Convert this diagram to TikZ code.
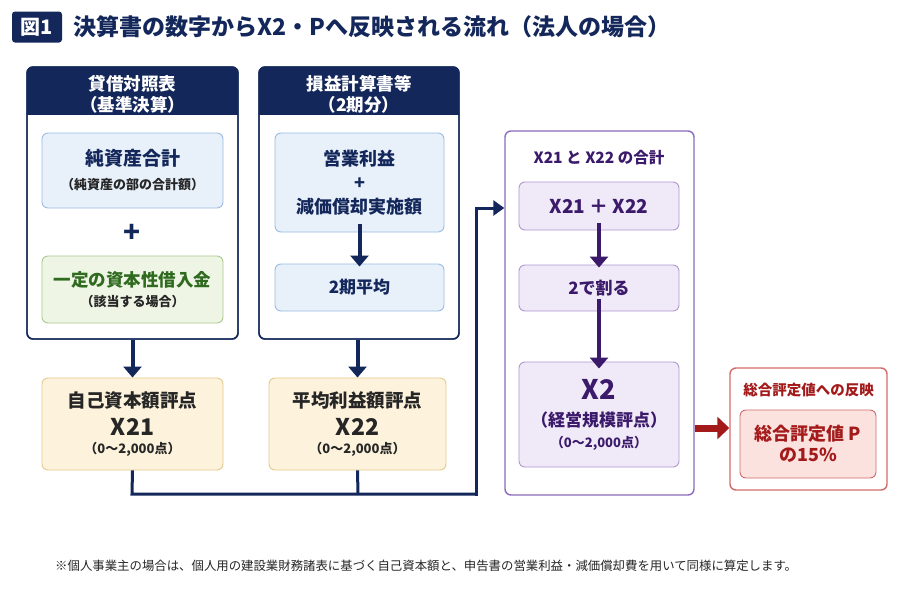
\documentclass[tikz,border=0pt]{standalone}
\usepackage{fontspec}
\setmainfont{Noto Sans CJK JP}
\usetikzlibrary{arrows.meta}
\definecolor{navy}{HTML}{13275A}
\definecolor{bluefill}{HTML}{E8F0FA}
\definecolor{blueline}{HTML}{9DBBE2}
\definecolor{greenfill}{HTML}{EEF5E5}
\definecolor{greenline}{HTML}{A9C98F}
\definecolor{greentext}{HTML}{2F6A1F}
\definecolor{yellowfill}{HTML}{FDF3DC}
\definecolor{yellowline}{HTML}{E6C98C}
\definecolor{purpline}{HTML}{8C6CBC}
\definecolor{purpfill}{HTML}{F0E9F7}
\definecolor{purptext}{HTML}{3B1A6B}
\definecolor{redc}{HTML}{A31A1A}
\definecolor{redline}{HTML}{D46A6A}
\definecolor{redfill}{HTML}{FBE2DF}
\definecolor{textdark}{HTML}{262626}
\newcommand{\fs}[1]{\fontsize{#1pt}{1.3\dimexpr#1pt\relax}\selectfont}
\newcommand{\basefs}{\fontsize{10pt}{30pt}\selectfont}
\begin{document}
\begin{tikzpicture}[x=1pt,y=-1pt,
  panel/.style={draw=navy, line width=1.4pt, rounded corners=6, fill=white, inner sep=0},
  hdr/.style={text=white, font=\basefs, align=center, inner sep=0},
  boxbase/.style={line width=0.9pt, rounded corners=6, align=center, inner sep=0, font=\basefs},
  bluebox/.style={boxbase, draw=blueline, fill=bluefill, text=navy},
  greenbox/.style={boxbase, draw=greenline, fill=greenfill, text=greentext},
  yelbox/.style={boxbase, draw=yellowline, fill=yellowfill, text=textdark},
  ppanel/.style={draw=purpline, line width=1.4pt, rounded corners=6, fill=white},
  pbox/.style={boxbase, draw=purpline!70, fill=purpfill, text=purptext},
  rpanel/.style={draw=redline, line width=1.4pt, rounded corners=6, fill=white},
  rbox/.style={boxbase, draw=redline, fill=redfill, text=redc},
  navyarrow/.style={draw=navy, line width=4pt, -{Triangle[width=18pt,length=11pt]}},
  purparrow/.style={draw=purptext, line width=4pt, -{Triangle[width=18pt,length=11pt]}},
  conn/.style={draw=navy, line width=3pt}
]
\useasboundingbox[fill=white] (0,0) rectangle (900,600);

% title
\node[fill=navy, rounded corners=3, minimum width=50, minimum height=31, text=white, font=\bfseries\fs{20}, inner sep=0] (fig) at (37,27) {図1};
\node[anchor=west, text=navy, font=\bfseries\fs{23}, inner sep=0] (title) at (73,26.5) {決算書の数字からX2・Pへ反映される流れ（法人の場合）};

% left panel
\node[panel, minimum width=211, minimum height=272] (lp) at (132.5,203) {};
\begin{scope}
\clip[rounded corners=6] (27,67) rectangle (238,339);
\fill[navy] (27,67) rectangle (238,115);
\end{scope}
\draw[navy, line width=1.4pt, rounded corners=6] (27,67) rectangle (238,339);
\node[hdr] (lph) at (132.5,94) {{\bfseries\fs{17.5}貸借対照表}\\[-9pt]{\bfseries\fs{17.5}（基準決算）}};
\node[bluebox, minimum width=181, minimum height=75] (na) at (132.5,170.5) {{\bfseries\fs{19}純資産合計}\\[-6pt]{\bfseries\fs{13}\color{textdark}（純資産の部の合計額）}};
\node[text=navy, font=\bfseries\fs{28}, inner sep=0] (plus) at (132,233) {+};
\node[greenbox, minimum width=181, minimum height=67] (cap) at (132.5,289.5) {{\bfseries\fs{17.5}一定の資本性借入金}\\[-10.5pt]{\bfseries\fs{13}\color{textdark}（該当する場合）}};

% middle panel
\node[panel, minimum width=200, minimum height=272] (mp) at (359,203) {};
\begin{scope}
\clip[rounded corners=6] (259,67) rectangle (459,339);
\fill[navy] (259,67) rectangle (459,115);
\end{scope}
\draw[navy, line width=1.4pt, rounded corners=6] (259,67) rectangle (459,339);
\node[hdr] (mph) at (359,94) {{\bfseries\fs{17.5}損益計算書等}\\[-9pt]{\bfseries\fs{17.5}（2期分）}};
\node[bluebox, minimum width=169, minimum height=99] (op) at (359.5,182.5) {{\bfseries\fs{18}営業利益}\\[-6pt]{\bfseries\fs{18}+}\\[-6pt]{\bfseries\fs{18}減価償却実施額}};
\node[bluebox, minimum width=169, minimum height=47] (avg) at (359.5,287.5) {{\bfseries\fs{17}2期平均}};
\draw[navyarrow] ([yshift=8]op.south) -- ([yshift=-3]avg.north);

% score boxes
\node[yelbox, minimum width=181, minimum height=92] (x21) at (132.5,424) {{\bfseries\fs{18.5}自己資本額評点}\\[-1.5pt]{\bfseries\fs{23}X21}\\[-12pt]{\bfseries\fs{13}（0〜2,000点）}};
\node[yelbox, minimum width=177, minimum height=92] (x22) at (357.5,424) {{\bfseries\fs{18.5}平均利益額評点}\\[-1.5pt]{\bfseries\fs{23}X22}\\[-12pt]{\bfseries\fs{13}（0〜2,000点）}};
\draw[navyarrow] (lp.south -| x21.north) -- (x21.north);
\draw[navyarrow] (mp.south -| x22.north) -- (x22.north);

% purple panel
\node[ppanel, minimum width=189, minimum height=364] (pp) at (599.5,313) {};
\node[text=purptext, font=\bfseries\fs{15.5}, inner sep=0] (ppt) at (599,158) {X21 と X22 の合計};
\node[pbox, minimum width=160, minimum height=48] (sum) at (599,206) {{\bfseries\fs{19}X21 ＋ X22}};
\node[pbox, minimum width=160, minimum height=46] (div) at (599,288) {{\bfseries\fs{17}2で割る}};
\node[pbox, minimum width=160, minimum height=105] (x2) at (599,414.5) {{\bfseries\fs{27}X2}\\[-3pt]{\bfseries\fs{17}（経営規模評点）}\\[-9pt]{\bfseries\fs{13}（0〜2,000点）}};
\draw[purparrow] ([yshift=7]sum.south) -- ([yshift=-3]div.north);
\draw[purparrow] ([yshift=12]div.south) -- ([yshift=-7]x2.north);

% connectors to purple
\coordinate (j1) at (132,494);
\coordinate (j2) at (358,494);
\coordinate (j3) at (476,494);
\coordinate (j4) at (476,208);
\draw[conn] (x21.south) -- (j1) -- (j3);
\draw[conn] (x22.south) -- (j2);
\draw[conn, line cap=rect] (j3) -- (j4) -- ([xshift=-12]pp.west |- j4);
\draw[navy, line width=3pt, -{Triangle[width=15pt,length=11pt]}] ([xshift=-13]pp.west |- j4) -- (pp.west |- j4);

% red panel
\node[rpanel, minimum width=157, minimum height=122] (rp) at (808.5,429) {};
\node[text=redc, font=\bfseries\fs{14.5}, inner sep=0] (rpt) at (808.5,390) {総合評定値への反映};
\node[rbox, minimum width=136, minimum height=68] (pv) at (808,444) {{\bfseries\fs{18}総合評定値 P}\\[-8.5pt]{\bfseries\fs{18}の15\%}};
\draw[redc, line width=7pt, -{Triangle[width=22pt,length=12pt]}] (pp.east |- 0,428) -- (rp.west |- 0,428);

% footnote
\node[anchor=west, text=textdark, font=\fs{12.4}, inner sep=0] (note) at (55,566) {※個人事業主の場合は、個人用の建設業財務諸表に基づく自己資本額と、申告書の営業利益・減価償却費を用いて同様に算定します。};
\end{tikzpicture}
\end{document}
